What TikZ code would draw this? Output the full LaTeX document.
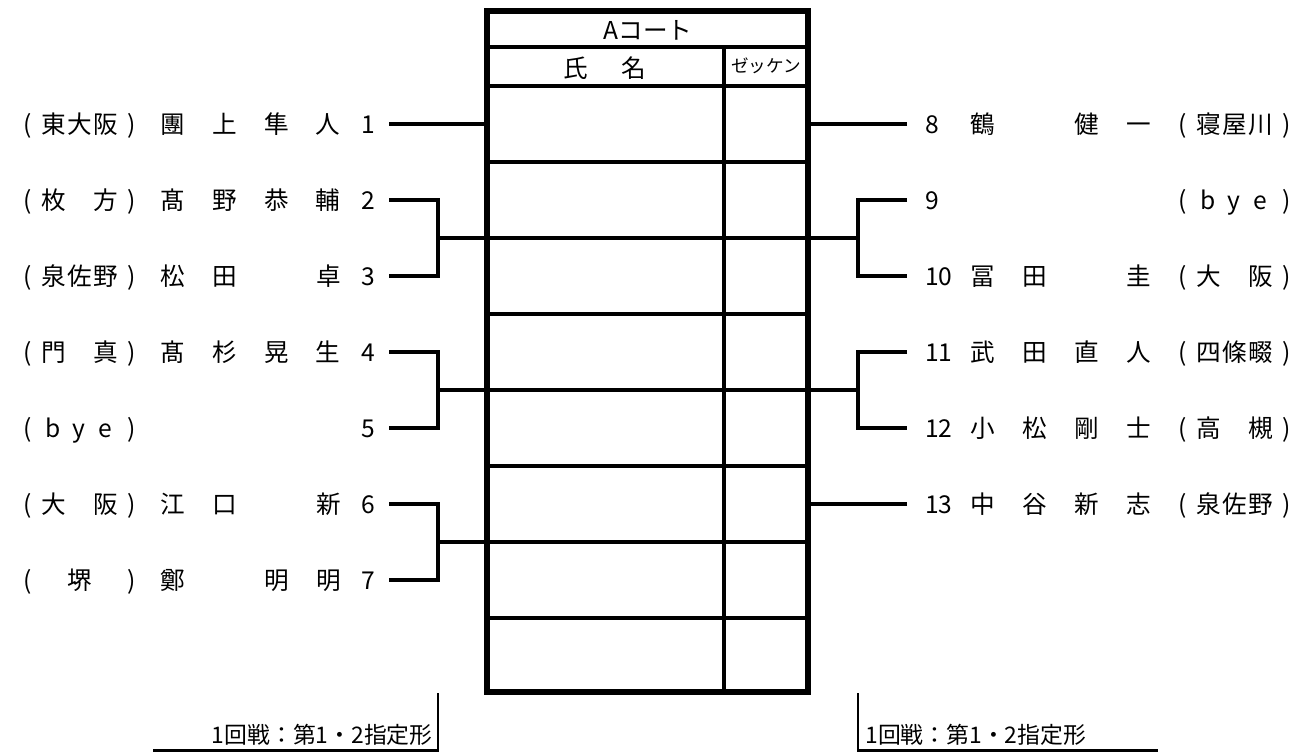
\documentclass[tikz,border=0pt]{standalone}
\usepackage{fontspec}
\setmainfont{Noto Sans CJK JP}
\newlength\cw \setlength\cw{0.52cm}
\newlength\nw \setlength\nw{1.04cm}
\newcommand\cty[3]{\makebox[\cw]{(}\makebox[\cw]{#1}\makebox[\cw]{#2}\makebox[\cw]{#3}\makebox[\cw]{)}}
\newcommand\pnm[4]{\makebox[\nw]{#1}\makebox[\nw]{#2}\makebox[\nw]{#3}\makebox[\nw]{#4}}
\begin{document}
\begin{tikzpicture}[x=0.02cm, y=-0.02cm,
    txt/.style={inner sep=0, font=\fontsize{14pt}{16pt}\selectfont, text height=0.434cm, text depth=0.059cm},
    small/.style={inner sep=0, font=\fontsize{10pt}{12pt}\selectfont},
    foottxt/.style={inner sep=0, font=\fontsize{13pt}{15pt}\selectfont},
    lnum/.style={txt, anchor=east, outer sep=0.28cm},
    rnum/.style={txt, anchor=west, outer sep=0.36cm},
    border/.style={line width=3.4pt},
    rule/.style={line width=2pt},
    wire/.style={line width=1.9pt},
    foot/.style={line width=1.2pt}]
            \useasboundingbox (0,0) rectangle (1297,752);
            \coordinate (tw) at (487,0);
            \coordinate (te) at (808,0);
            \draw [rule] (487,47) -- (808,47);
            \draw [rule] (487,86) -- (808,86);
            \draw [rule] (487,162) -- (808,162);
            \draw [rule] (487,238) -- (808,238);
            \draw [rule] (487,314) -- (808,314);
            \draw [rule] (487,390) -- (808,390);
            \draw [rule] (487,466) -- (808,466);
            \draw [rule] (487,542) -- (808,542);
            \draw [rule] (487,618) -- (808,618);
            \draw [rule] (724,47) -- (724,692);
            \draw [border] (487,11) rectangle (808,692);
            \node [txt] (court) at (648,30) {Aコート};
            \node [txt] (hname) at (605,68) {氏\hspace{0.68cm}名};
            \node [small] (hbib) at (766,66) {ゼッケン};
            % left side
            \node [txt, anchor=west] (c1) at (14,124) {\cty{東}{大}{阪}};
            \node [txt, anchor=west] (p1) at (146,124) {\pnm{團}{上}{隼}{人}};
            \node [lnum] (n1) at (389,124) {1};
            \node [txt, anchor=west] (c2) at (14,200) {\cty{枚}{}{方}};
            \node [txt, anchor=west] (p2) at (146,200) {\pnm{髙}{野}{恭}{輔}};
            \node [lnum] (n2) at (389,200) {2};
            \node [txt, anchor=west] (c3) at (14,276) {\cty{泉}{佐}{野}};
            \node [txt, anchor=west] (p3) at (146,276) {\pnm{松}{田}{}{卓}};
            \node [lnum] (n3) at (389,276) {3};
            \node [txt, anchor=west] (c4) at (14,352) {\cty{門}{}{真}};
            \node [txt, anchor=west] (p4) at (146,352) {\pnm{髙}{杉}{晃}{生}};
            \node [lnum] (n4) at (389,352) {4};
            \node [txt, anchor=west] (c5) at (14,428) {\cty{b}{y}{e}};
            \node [lnum] (n5) at (389,428) {5};
            \node [txt, anchor=west] (c6) at (14,504) {\cty{大}{}{阪}};
            \node [txt, anchor=west] (p6) at (146,504) {\pnm{江}{口}{}{新}};
            \node [lnum] (n6) at (389,504) {6};
            \node [txt, anchor=west] (c7) at (14,580) {\cty{}{堺}{}};
            \node [txt, anchor=west] (p7) at (146,580) {\pnm{鄭}{}{明}{明}};
            \node [lnum] (n7) at (389,580) {7};
            \coordinate (jl1) at (438,238);
            \coordinate (jl2) at (438,390);
            \coordinate (jl3) at (438,542);
            \draw [wire] (n1.east) -- (n1.east -| tw);
            \draw [wire] (n2.east) -| (jl1) |- (n3.east);
            \draw [wire] (jl1) -- (jl1 -| tw);
            \draw [wire] (n4.east) -| (jl2) |- (n5.east);
            \draw [wire] (jl2) -- (jl2 -| tw);
            \draw [wire] (n6.east) -| (jl3) |- (n7.east);
            \draw [wire] (jl3) -- (jl3 -| tw);
            % right side
            \node [rnum] (n8) at (907,124) {8};
            \node [txt, anchor=west] (p8) at (956,124) {\pnm{鶴}{}{健}{一}};
            \node [txt, anchor=west] (c8) at (1169,124) {\cty{寝}{屋}{川}};
            \node [rnum] (n9) at (907,200) {9};
            \node [txt, anchor=west] (c9) at (1169,200) {\cty{b}{y}{e}};
            \node [rnum] (n10) at (907,276) {10};
            \node [txt, anchor=west] (p10) at (956,276) {\pnm{冨}{田}{}{圭}};
            \node [txt, anchor=west] (c10) at (1169,276) {\cty{大}{}{阪}};
            \node [rnum] (n11) at (907,352) {11};
            \node [txt, anchor=west] (p11) at (956,352) {\pnm{武}{田}{直}{人}};
            \node [txt, anchor=west] (c11) at (1169,352) {\cty{四}{條}{畷}};
            \node [rnum] (n12) at (907,428) {12};
            \node [txt, anchor=west] (p12) at (956,428) {\pnm{小}{松}{剛}{士}};
            \node [txt, anchor=west] (c12) at (1169,428) {\cty{高}{}{槻}};
            \node [rnum] (n13) at (907,504) {13};
            \node [txt, anchor=west] (p13) at (956,504) {\pnm{中}{谷}{新}{志}};
            \node [txt, anchor=west] (c13) at (1169,504) {\cty{泉}{佐}{野}};
            \coordinate (jr1) at (858,238);
            \coordinate (jr2) at (858,390);
            \draw [wire] (n8.west) -- (n8.west -| te);
            \draw [wire] (n9.west) -| (jr1) |- (n10.west);
            \draw [wire] (jr1) -- (jr1 -| te);
            \draw [wire] (n11.west) -| (jr2) |- (n12.west);
            \draw [wire] (jr2) -- (jr2 -| te);
            \draw [wire] (n13.west) -- (n13.west -| te);
            % footer
            \node [foottxt, anchor=east] (fl) at (433,735) {1回戦：第1・2指定形};
            \node [foottxt, anchor=west] (fr) at (865,735) {1回戦：第1・2指定形};
            \coordinate (flt) at (438,693);
            \coordinate (flb) at (438,750.5);
            \coordinate (fle) at (153,750.5);
            \coordinate (frt) at (858,693);
            \coordinate (frb) at (858,750.5);
            \coordinate (fre) at (1158,750.5);
            \draw [foot] (flt) -- (flb) -- (fle);
            \draw [foot] (frt) -- (frb) -- (fre);
        \end{tikzpicture}
\end{document}
